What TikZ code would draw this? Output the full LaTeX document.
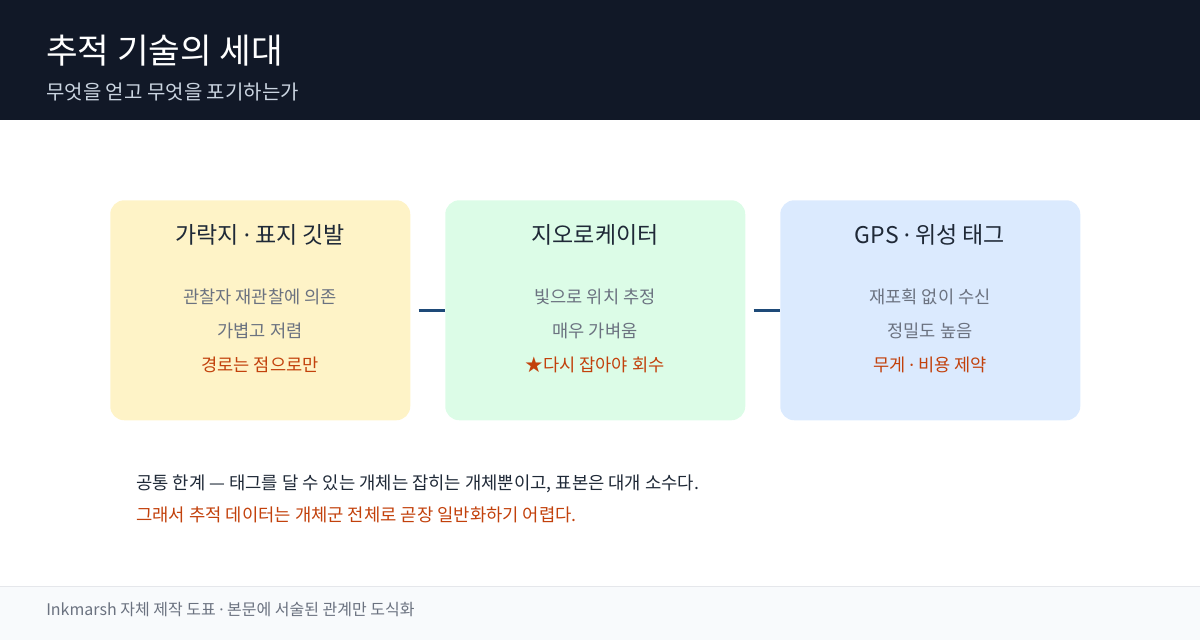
\documentclass[tikz,border=0pt]{standalone}
\usepackage{fontspec}
\setmainfont{Noto Sans CJK KR}
\newfontfamily\narrowdot{Noto Sans}
\newcommand{\mdot}{{\narrowdot ·}}
\usetikzlibrary{positioning}

\definecolor{headbg}{HTML}{111827}
\definecolor{subtxt}{HTML}{CBD5E1}
\definecolor{darktxt}{HTML}{1F2937}
\definecolor{greytxt}{HTML}{6B7280}
\definecolor{warntxt}{HTML}{C2410C}
\definecolor{linkcol}{HTML}{1E4A78}
\definecolor{footbg}{HTML}{F8FAFC}
\definecolor{footrule}{HTML}{E5E7EB}
\definecolor{ringfill}{HTML}{FEF3C7}
\definecolor{geofill}{HTML}{DCFCE7}
\definecolor{gpsfill}{HTML}{DBEAFE}

\begin{document}
\begin{tikzpicture}[x=0.75pt,y=-0.75pt,
    card/.style={rounded corners=10.5pt,minimum width=225pt,minimum height=165pt,
      anchor=north west,inner sep=0pt},
    cardtitle/.style={anchor=base,text=darktxt,font=\fontsize{17.25}{20}\selectfont},
    cardline/.style={anchor=base,text=greytxt,font=\fontsize{13.2}{15}\selectfont},
    cardwarn/.style={cardline,text=warntxt},
    link/.style={draw=linkcol,line width=2.25pt}]
  \useasboundingbox (0,0) rectangle (1200,640);
  % header
  \fill[headbg] (0,0) rectangle (1200,120);
  \node[anchor=base west,inner sep=0pt,text=white,font=\fontsize{25.8}{30}\selectfont]
    (title) at (46,63) {추적 기술의 세대};
  \node[anchor=base west,inner sep=0pt,text=subtxt,font=\fontsize{15}{18}\selectfont]
    (subtitle) at (46,99) {무엇을 얻고 무엇을 포기하는가};
  % cards
  \node[card,fill=ringfill] (ring) at (110,200) {};
  \node[card,fill=geofill] (geo) at (445,200) {};
  \node[card,fill=gpsfill] (gps) at (780,200) {};
  \draw[link] ([xshift=6pt]ring.east) -- (geo.west);
  \draw[link] ([xshift=6pt]geo.east) -- (gps.west);
  \node[cardtitle] (ringT) at (260,243) {가락지 \mdot{} 표지 깃발};
  \node[cardline] (ringA) at (260,303) {관찰자 재관찰에 의존};
  \node[cardline] (ringB) at (260,337) {가볍고 저렴};
  \node[cardwarn] (ringC) at (260,371) {경로는 점으로만};
  \node[cardtitle] (geoT) at (595,243) {지오로케이터};
  \node[cardline] (geoA) at (595,303) {빛으로 위치 추정};
  \node[cardline] (geoB) at (595,337) {매우 가벼움};
  \node[cardwarn] (geoC) at (595,371) {★다시 잡아야 회수};
  \node[cardtitle] (gpsT) at (930,243) {GPS \mdot{} 위성 태그};
  \node[cardline] (gpsA) at (930,303) {재포획 없이 수신};
  \node[cardline] (gpsB) at (930,337) {정밀도 높음};
  \node[cardwarn] (gpsC) at (930,371) {무게 \mdot{} 비용 제약};
  % note
  \node[anchor=base west,inner sep=0pt,text=darktxt,font=\fontsize{13.3}{16}\selectfont]
    (noteA) at (136,489) {공통 한계 — 태그를 달 수 있는 개체는 잡히는 개체뿐이고, 표본은 대개 소수다.};
  \node[anchor=base west,inner sep=0pt,text=warntxt,font=\fontsize{13.3}{16}\selectfont]
    (noteB) at (136,521) {그래서 추적 데이터는 개체군 전체로 곧장 일반화하기 어렵다.};
  % footer
  \fill[footbg] (0,586) rectangle (1200,640);
  \draw[footrule,line width=0.75pt] (0,586) -- (1200,586);
  \node[anchor=base west,inner sep=0pt,text=greytxt,font=\fontsize{12}{14}\selectfont]
    (foot) at (46,615) {Inkmarsh 자체 제작 도표 \mdot{} 본문에 서술된 관계만 도식화};
\end{tikzpicture}
\end{document}
